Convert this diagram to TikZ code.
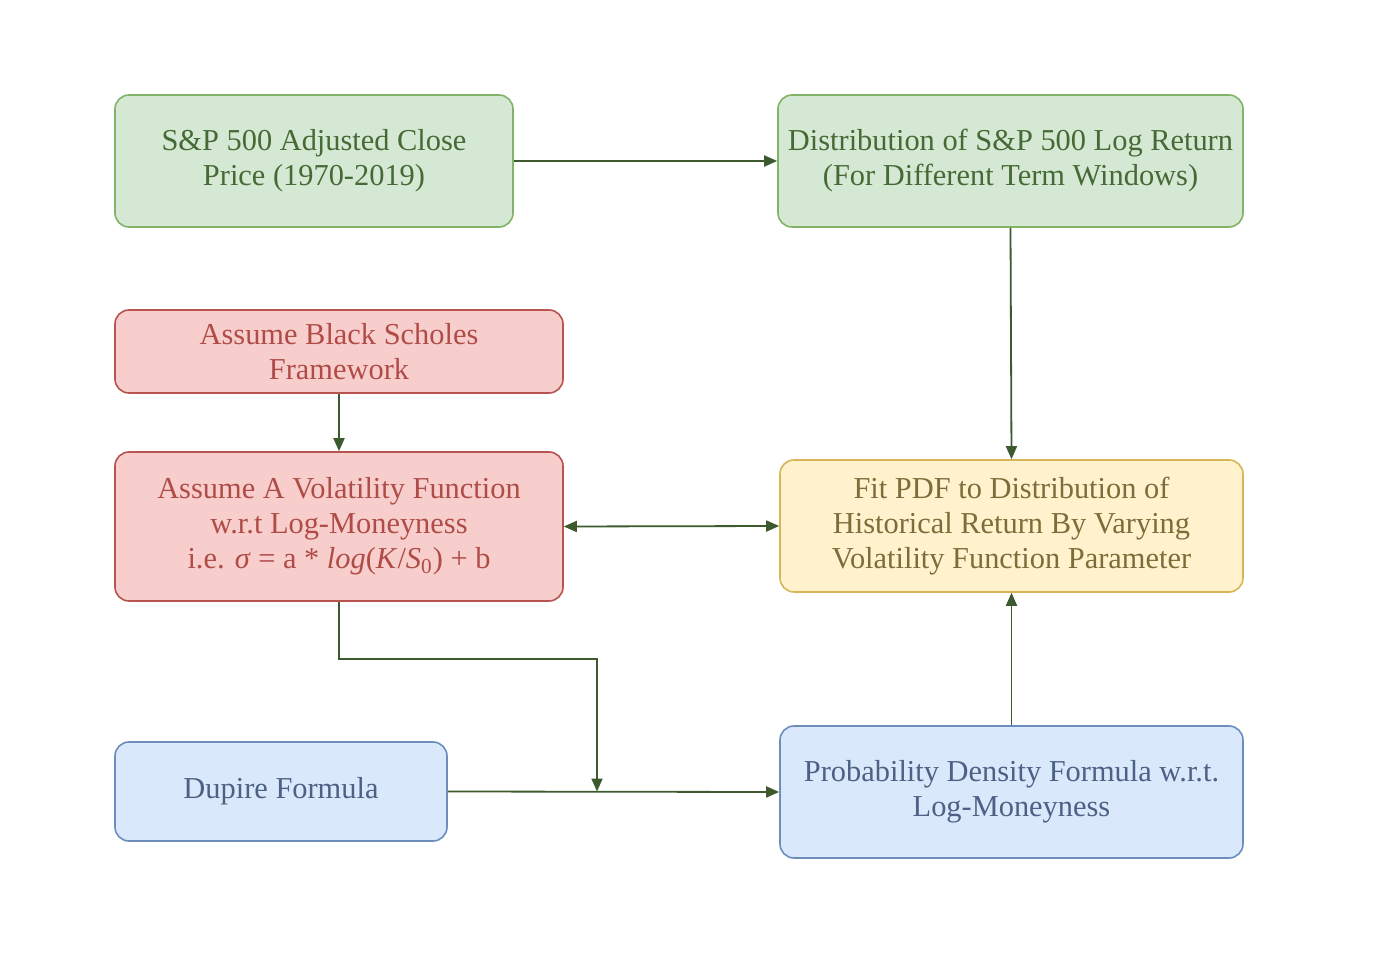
\documentclass[tikz,border=0pt]{standalone}
\usepackage{fontspec}
\setmainfont{Liberation Serif}
\usetikzlibrary{arrows.meta}
\definecolor{gfill}{HTML}{D5E8D4}
\definecolor{gline}{HTML}{82B366}
\definecolor{gtext}{HTML}{466A35}
\definecolor{rfill}{HTML}{F8CECC}
\definecolor{rline}{HTML}{B85450}
\definecolor{rtext}{HTML}{B04C48}
\definecolor{yfill}{HTML}{FFF2CC}
\definecolor{yline}{HTML}{D6B656}
\definecolor{ytext}{HTML}{7D6D3A}
\definecolor{bfill}{HTML}{DAE8FC}
\definecolor{bline}{HTML}{6C8EBF}
\definecolor{btext}{HTML}{4D6185}
\definecolor{arrowc}{HTML}{3D5A2E}
\begin{document}
\begin{tikzpicture}[x=0.5pt,y=-0.5pt,
  box/.style={draw, rounded corners=7pt, line width=0.8pt, align=center, inner sep=2pt,
    font=\fontsize{15.2}{17.5}\selectfont},
  gbox/.style={box, fill=gfill, draw=gline, text=gtext},
  rbox/.style={box, fill=rfill, draw=rline, text=rtext},
  ybox/.style={box, fill=yfill, draw=yline, text=ytext},
  bbox/.style={box, fill=bfill, draw=bline, text=btext},
  arr/.style={-{Triangle[length=6.5pt,width=5.5pt]}, draw=arrowc, line width=0.9pt},
  darr/.style={{Triangle[length=6.5pt,width=5.5pt]}-{Triangle[length=6.5pt,width=5.5pt]}, draw=arrowc, line width=0.9pt}]
\useasboundingbox (0,0) rectangle (1392,962);
\fill[white] (0,0) rectangle (1392,962);

\node[gbox, minimum width=199pt, minimum height=66pt] (sp) at (314,161)
  {S\&P 500 Adjusted Close\\Price (1970-2019)};
\node[gbox, minimum width=232.5pt, minimum height=66pt] (dist) at (1010.5,161)
  {Distribution of S\&P 500 Log Return\\(For Different Term Windows)};
\node[rbox, minimum width=224pt, minimum height=41.5pt] (bs) at (339,351.5)
  {Assume Black Scholes\\Framework};
\node[rbox, minimum width=224pt, minimum height=74.5pt] (vol) at (339,526.5)
  {Assume A Volatility Function\\w.r.t Log-Moneyness\\i.e. \textit{σ} = a * \textit{log}(\textit{K}/\textit{S}\textsubscript{0}) + b};
\node[ybox, minimum width=231.5pt, minimum height=66pt] (fit) at (1011.5,526)
  {Fit PDF to Distribution of\\Historical Return By Varying\\Volatility Function Parameter};
\node[bbox, minimum width=166pt, minimum height=49.5pt] (dup) at (281,791.5)
  {Dupire Formula};
\node[bbox, minimum width=231.5pt, minimum height=66pt] (prob) at (1011.5,792)
  {Probability Density Formula w.r.t.\\Log-Moneyness};

\coordinate (bend) at (339,659);
\coordinate (join) at (597,791.5);

\draw[arr] (sp.east) -- (dist.west);
\draw[arr] (dist.south) -- (fit.north);
\draw[arr] (bs.south) -- (vol.north);
\draw[darr] (vol.east) -- (fit.west);
\draw[arr] (vol.south) -- (bend) -| (join);
\draw[arr] (dup.east) -- (prob.west);
\draw[arr] (prob.north) -- (fit.south);
\end{tikzpicture}
\end{document}
